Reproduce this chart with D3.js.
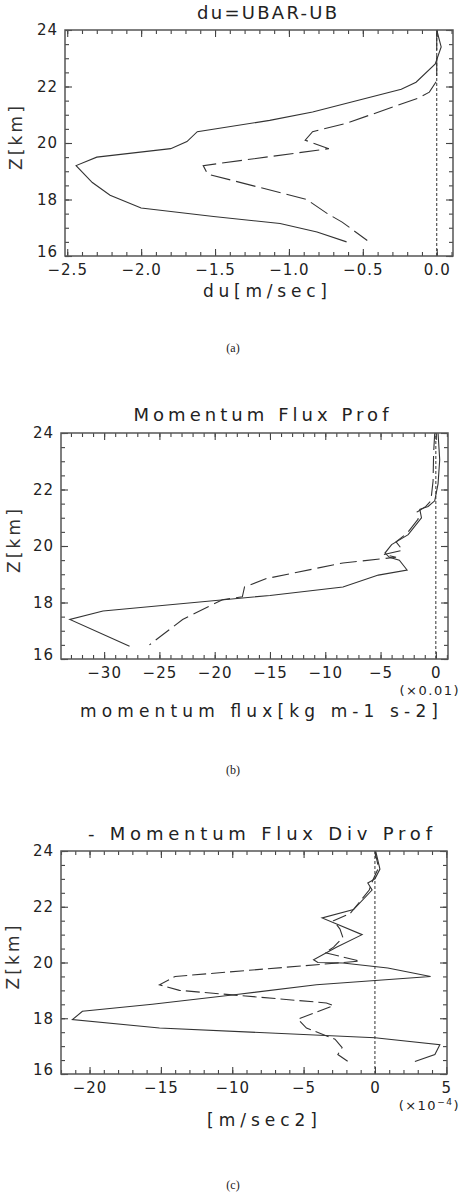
<!DOCTYPE html>
<html>
<head>
<meta charset="utf-8">
<script src="https://cdn.jsdelivr.net/npm/d3@7"></script>
<style>
body{margin:0;background:#fff;}
</style>
</head>
<body>
<div id="chart"></div>
<script>
// heights shared by the three profiles
var zTicks=[16,18,20,22,24];

// (a) du=UBAR-UB  [value, z km]
var duTicks=[-2.5,-2.0,-1.5,-1.0,-0.5,0.0];
var duSolid=[[0,24],[0.03,23.4],[-0.01,22.8],[-0.14,22.15],[-0.24,21.9],[-0.84,21.1],[-1.13,20.8],[-1.62,20.4],[-1.69,20.05],[-1.80,19.8],[-2.30,19.5],[-2.44,19.2],[-2.33,18.6],[-2.21,18.15],[-2.0,17.7],[-1.51,17.4],[-1.06,17.15],[-0.81,16.85],[-0.61,16.5]];
var duDashed=[[0,24],[0,22.2],[-0.05,21.8],[-0.12,21.6],[-0.61,20.7],[-0.84,20.4],[-0.89,20.1],[-0.73,19.8],[-1.58,19.2],[-1.55,18.9],[-0.88,18.0],[-0.74,17.5],[-0.64,17.2],[-0.47,16.55]];

// (b) momentum flux (x0.01)
var mfTicks=[-30,-25,-20,-15,-10,-5,0];
var mfSolid=[[0.2,24],[0.35,23.05],[0.2,22.2],[-0.1,21.6],[-0.7,21.4],[-1.45,21.3],[-1.3,21.0],[-2.5,20.4],[-4.0,20.05],[-4.6,19.75],[-4.2,19.6],[-3.3,19.5],[-2.6,19.15],[-5.2,18.97],[-8.4,18.55],[-15,18.25],[-30.1,17.7],[-33.1,17.4],[-27.7,16.45]];
var mfDashed=[[-0.1,24],[-0.2,23.3],[-0.25,22.3],[-0.45,21.6],[-0.9,21.4],[-1.7,21.2],[-1.6,20.95],[-2.6,20.45],[-3.6,20.15],[-3.0,19.85],[-4.7,19.7],[-3.6,19.6],[-8.4,19.4],[-15.3,18.85],[-17.3,18.55],[-17.5,18.2],[-19.3,18.1],[-22.9,17.4],[-25.9,16.5]];

// (c) - momentum flux div (x1e-4)
var mdTicks=[-20,-15,-10,-5,0,5];
var mdSolid=[[0.05,24],[0.35,23.35],[0.0,23.0],[-0.5,22.85],[-0.2,22.6],[-1.5,21.9],[-3.7,21.6],[-0.9,21.0],[-2.7,20.55],[-4.3,20.1],[-4.0,20.0],[-2.25,19.98],[0.9,19.8],[3.9,19.5],[-4.1,19.2],[-9.7,18.85],[-15.6,18.5],[-20.5,18.25],[-21.2,17.95],[-15.1,17.65],[0,17.3],[4.55,17.05],[4.2,16.7],[2.8,16.45]];
var mdDashed=[[0,24],[0.25,23.4],[-0.15,22.95],[-0.4,22.6],[-1.75,21.75],[-2.9,21.5],[-2.45,21.2],[-2.25,20.9],[-2.9,20.55],[-3.5,20.35],[-1.05,20.05],[-14.0,19.5],[-15.1,19.2],[-13.7,19.0],[-3.4,18.55],[-2.9,18.45],[-5.4,17.97],[-4.8,17.65],[-2.8,17.25],[-2.3,16.95],[-2.6,16.7],[-1.9,16.45]];

var W=461,H=1196;
var font="'DejaVu Sans', Arial, sans-serif";
var ink="#333";

var svg=d3.select("#chart").append("svg")
	.attr("width",W)
	.attr("height",H)
	.style("font-family",font);

function styleAxis(sel){
	sel.select(".domain").remove();
	sel.selectAll(".tick line").attr("stroke","#444").attr("stroke-width",1.1);
	sel.selectAll(".tick text")
		.attr("fill","#222")
		.style("font-size","15px")
		.style("font-family",font)
		.style("letter-spacing","1px");
}

function drawProfile(p){
	var g=svg.append("g")
	.attr("transform","translate("+p.left+","+p.top+")");

	var x=d3.scaleLinear().domain(p.xDomain).range([0,p.width]);
	var y=d3.scaleLinear().domain([16,24]).range([p.height,0]);
	var xMinor=d3.range(p.xDomain[0],p.xDomain[1],p.minorStep).map(function(v){ return Math.ceil(v/p.minorStep-1e-6)*p.minorStep; });
	var zMinor=d3.range(16,24.01,0.5);
	var blank=function(){ return ""; };

	// minor ticks on all four sides
	g.append("g").attr("transform","translate(0,"+p.height+")").call(d3.axisBottom(x).tickValues(xMinor).tickSize(-4).tickFormat(blank)).call(styleAxis);
	g.append("g").call(d3.axisTop(x).tickValues(xMinor).tickSize(-4).tickFormat(blank)).call(styleAxis);
	g.append("g").call(d3.axisLeft(y).tickValues(zMinor).tickSize(-4).tickFormat(blank)).call(styleAxis);
	g.append("g").attr("transform","translate("+p.width+",0)").call(d3.axisRight(y).tickValues(zMinor).tickSize(-4).tickFormat(blank)).call(styleAxis);

	// major ticks, labels bottom + left
	g.append("g").attr("transform","translate(0,"+p.height+")")
	.call(d3.axisBottom(x).tickValues(p.xTicks).tickSize(-7).tickPadding(8).tickFormat(p.fmt))
	.call(styleAxis);
	g.append("g").call(d3.axisTop(x).tickValues(p.xTicks).tickSize(-7).tickFormat(blank)).call(styleAxis);
	var yAx=g.append("g")
	.call(d3.axisLeft(y).tickValues(zTicks).tickSize(-7).tickPadding(7).tickFormat(d3.format("d")))
	.call(styleAxis);
	// lift the lowest label a little so it clears the first x label
	yAx.selectAll(".tick text").filter(function(d){ return d==16; }).attr("dy","0.05em");
	g.append("g").attr("transform","translate("+p.width+",0)").call(d3.axisRight(y).tickValues(zTicks).tickSize(-7).tickFormat(blank)).call(styleAxis);

	// zero line
	g.append("line")
	.attr("x1",x(0)).attr("x2",x(0))
	.attr("y1",y(16)).attr("y2",y(24))
	.attr("stroke","#333")
	.attr("stroke-width",1)
	.attr("stroke-dasharray","3,2");

	var line=d3.line()
	.x(function(d){ return x(d[0]); })
	.y(function(d){ return y(d[1]); });

	g.append("path")
	.datum(p.solid)
	.attr("d",line)
	.attr("fill","none")
	.attr("stroke",ink)
	.attr("stroke-width",1.1);

	g.append("path")
	.datum(p.dashed)
	.attr("d",line)
	.attr("fill","none")
	.attr("stroke",ink)
	.attr("stroke-width",1.1)
	.attr("stroke-dasharray",p.dash);

	// frame
	g.append("rect")
	.attr("width",p.width)
	.attr("height",p.height)
	.attr("fill","none")
	.attr("stroke","#555")
	.attr("stroke-width",1.5);

	// texts
	g.append("text")
	.attr("x",p.titleX-p.left)
	.attr("y",p.titleY-p.top)
	.attr("text-anchor","middle")
	.attr("textLength",p.titleW)
	.attr("lengthAdjust","spacing")
	.attr("fill","#222")
	.style("font-size","18px")
	.text(p.title);

	g.append("text")
	.attr("x",p.labelX-p.left)
	.attr("y",p.labelY-p.top)
	.attr("text-anchor","middle")
	.attr("textLength",p.labelW)
	.attr("lengthAdjust","spacing")
	.attr("fill","#222")
	.style("font-size","17px")
	.text(p.label);

	g.append("text")
	.attr("transform","translate("+(p.zX-p.left)+","+(p.height/2-5)+") rotate(-90)")
	.attr("text-anchor","middle")
	.attr("textLength",64)
	.attr("lengthAdjust","spacing")
	.attr("fill","#333")
	.style("font-size","17px")
	.text("Z[km]");

	if(p.scaleNote){
		var t=g.append("text")
		.attr("x",460-p.left)
		.attr("y",p.noteY-p.top)
		.attr("text-anchor","end")
		.attr("fill","#222")
		.style("font-size","13px")
		.style("letter-spacing","1.5px");
		p.scaleNote(t);
	}

	svg.append("text")
	.attr("x",233)
	.attr("y",p.capY)
	.attr("text-anchor","middle")
	.attr("fill","#222")
	.style("font-family","'Liberation Serif', 'Times New Roman', serif")
	.style("font-size","12px")
	.text(p.caption);
}

drawProfile({
	left:65,top:30,width:388,height:226,
	xDomain:[-2.515,0.11],minorStep:0.1,xTicks:duTicks,fmt:d3.format(".1f"),
	solid:duSolid,dashed:duDashed,dash:"20,6",
	title:"du=UBAR-UB",titleX:267,titleY:19,titleW:140,
	label:"du[m/sec]",labelX:265,labelY:297,labelW:124,
	zX:22,caption:"(a)",capY:352
});

drawProfile({
	left:61,top:433,width:387,height:226,
	xDomain:[-33.9,1.1],minorStep:1,xTicks:mfTicks,fmt:d3.format("d"),
	solid:mfSolid,dashed:mfDashed,dash:"17,6",
	title:"Momentum Flux Prof",titleX:261,titleY:421,titleW:255,
	label:"momentum flux[kg m-1 s-2]",labelX:259,labelY:717,labelW:358,
	zX:20,caption:"(b)",capY:774,
	noteY:695,scaleNote:function(t){ t.text("(×0.01)"); }
});

drawProfile({
	left:61,top:851,width:386,height:223,
	xDomain:[-22,5.05],minorStep:1,xTicks:mdTicks,fmt:d3.format("d"),
	solid:mdSolid,dashed:mdDashed,dash:"14,5",
	title:"- Momentum Flux Div Prof",titleX:260,titleY:840,titleW:344,
	label:"[m/sec2]",labelX:262,labelY:1126,labelW:110,
	zX:19,caption:"(c)",capY:1189,
	noteY:1110,scaleNote:function(t){
		t.append("tspan").text("(×10");
		t.append("tspan").attr("dy",-5).style("font-size","9px").text("−4");
		t.append("tspan").attr("dy",5).text(")");
	}
});
</script>
</body>
</html>
